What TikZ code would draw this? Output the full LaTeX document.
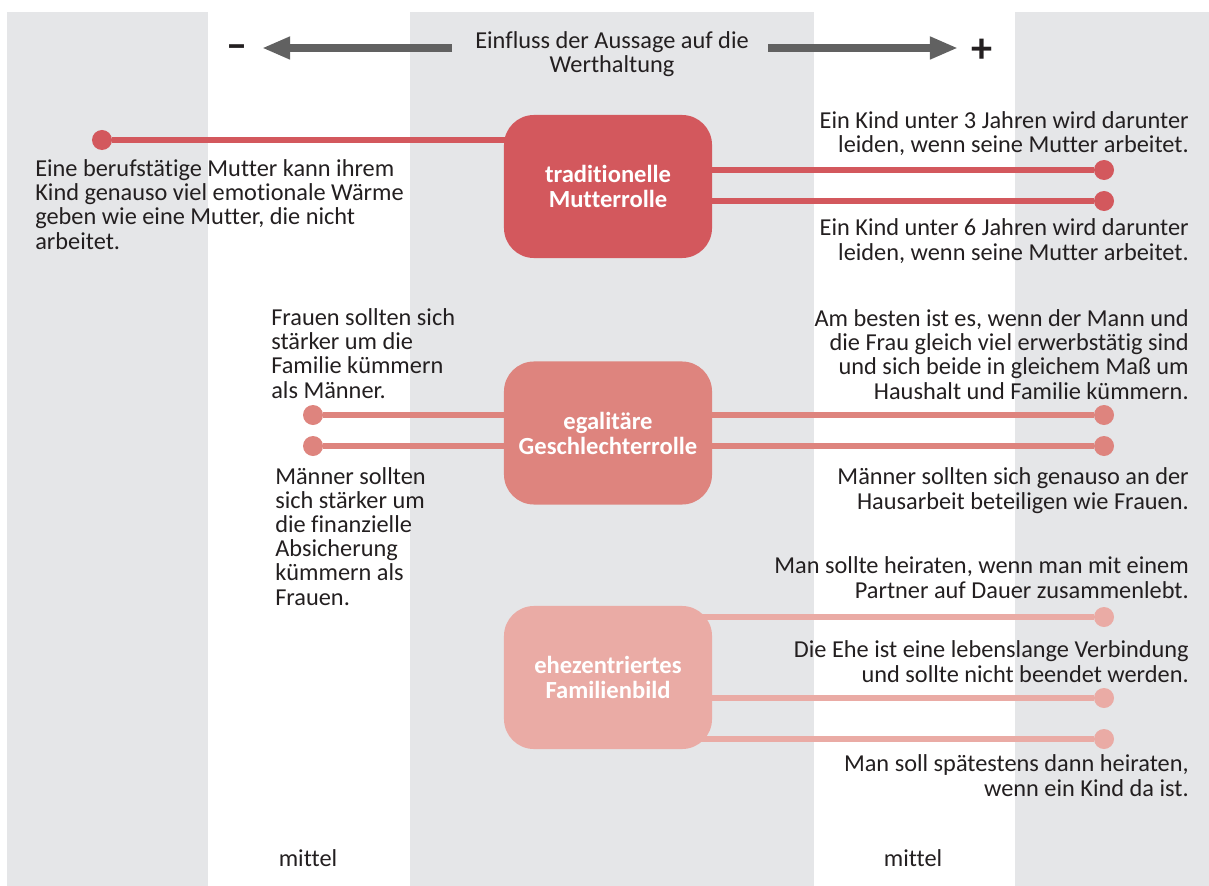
\documentclass[tikz,border=0pt]{standalone}
\usepackage{fontspec}
\setmainfont{Carlito}[Ligatures={NoCommon,NoContextual},Contextuals=NoAlternate]
\usetikzlibrary{arrows.meta,backgrounds}
\definecolor{rot}{HTML}{D3585D}
\definecolor{rosa}{HTML}{DE847E}
\definecolor{hell}{HTML}{EAABA5}
\definecolor{grau}{HTML}{E5E6E8}
\definecolor{pfeil}{HTML}{616161}
\definecolor{schrift}{HTML}{231F20}

\begin{document}
\begin{tikzpicture}[x=0.025cm,y=-0.025cm,
	txt/.style={font=\fontsize{17.3}{17.1}\selectfont,text=schrift,inner sep=0pt},
	links/.style={txt,align=left,anchor=base west},
	rechts/.style={txt,align=right,anchor=base east},
	rolle/.style={shape=rectangle,rounded corners=0.75cm,minimum width=5.2cm,minimum height=3.575cm,
		inner sep=0pt,align=center,text=white,font=\fontsize{17.5}{17.8}\selectfont\bfseries},
	punkt/.style={shape=circle,minimum size=0.5cm,inner sep=0pt},
	linie/.style={line width=3.6pt},
	zeichen/.style={font=\fontsize{30}{30}\selectfont\bfseries,text=schrift,inner sep=0pt}]

	\useasboundingbox (0,0) rectangle (1209,886);
	\begin{scope}[on background layer]
		\fill[grau] (7,12) rectangle (208,886);
		\fill[grau] (410,12) rectangle (814,886);
		\fill[grau] (1015,12) rectangle (1209,886);
	\end{scope}

	% Kopfzeile (base = letzte Zeile)
	\node[txt,align=center,anchor=base] (titel) at (612,73) {Einfluss der Aussage auf die\\Werthaltung};
	\node[zeichen] (minus) at (237,52) {–};
	\node[zeichen] (plus) at (982,51) {+};
	\coordinate (ls) at (452,48);
	\coordinate (pl) at (262,48);
	\coordinate (rs) at (768,48);
	\coordinate (pr) at (958,48);
	\draw[pfeil,line width=5pt,-{Triangle[length=20pt,width=15pt]}] (ls) -- (pl);
	\draw[pfeil,line width=5pt,-{Triangle[length=20pt,width=15pt]}] (rs) -- (pr);

	% Wertebereiche
	\node[rolle,fill=rot] (tm) at (608,186.5) {traditionelle\\Mutterrolle};
	\node[rolle,fill=rosa] (eg) at (608,433) {egalitäre\\Geschlechterrolle};
	\node[rolle,fill=hell] (ez) at (608,677.5) {ehezentriertes\\Familienbild};

	% Aussagen
	\node[punkt,fill=rot] (a) at (102,140) {};
	\node[punkt,fill=rot] (b) at (1104,170) {};
	\node[punkt,fill=rot] (c) at (1104,201) {};
	\node[punkt,fill=rosa] (d) at (313,415) {};
	\node[punkt,fill=rosa] (e) at (313,446) {};
	\node[punkt,fill=rosa] (f) at (1104,415) {};
	\node[punkt,fill=rosa] (g) at (1104,446) {};
	\node[punkt,fill=hell] (h) at (1104,617) {};
	\node[punkt,fill=hell] (i) at (1104,698) {};
	\node[punkt,fill=hell] (j) at (1104,739) {};

	\begin{scope}[on background layer]
		\path[linie,draw=rot] (a) edge (tm.center |- a);
		\path[linie,draw=rot] (b) edge (tm.center |- b);
		\path[linie,draw=rot] (c) edge (tm.center |- c);
		\path[linie,draw=rosa] (d) edge (f);
		\path[linie,draw=rosa] (e) edge (g);
		\path[linie,draw=hell] (h) edge (ez.center |- h);
		\path[linie,draw=hell] (i) edge (ez.center |- i);
		\path[linie,draw=hell] (j) edge (ez.center |- j);
	\end{scope}

	\node[links] (ta) at (35,249) {Eine berufstätige Mutter kann ihrem\\Kind genauso viel emotionale Wärme\\geben wie eine Mutter, die nicht\\arbeitet.};
	\node[rechts] (tb) at (1189,153) {Ein Kind unter 3 Jahren wird darunter\\leiden, wenn seine Mutter arbeitet.};
	\node[rechts] (tc) at (1189,260) {Ein Kind unter 6 Jahren wird darunter\\leiden, wenn seine Mutter arbeitet.};
	\node[links] (td) at (271,398) {Frauen sollten sich\\stärker um die\\Familie kümmern\\als Männer.};
	\node[links] (te) at (275,605) {Männer sollten\\sich stärker um\\die finanzielle\\Absicherung\\kümmern als\\Frauen.};
	\node[rechts] (tf) at (1189,399) {Am besten ist es, wenn der Mann und\\die Frau gleich viel erwerbstätig sind\\und sich beide in gleichem Maß um\\Haushalt und Familie kümmern.};
	\node[rechts] (tg) at (1189,509) {Männer sollten sich genauso an der\\Hausarbeit beteiligen wie Frauen.};
	\node[rechts] (th) at (1189,598) {Man sollte heiraten, wenn man mit einem\\Partner auf Dauer zusammenlebt.};
	\node[rechts] (ti) at (1189,682) {Die Ehe ist eine lebenslange Verbindung\\und sollte nicht beendet werden.};
	\node[rechts] (tj) at (1189,796) {Man soll spätestens dann heiraten,\\wenn ein Kind da ist.};

	% Skala
	\node[txt,anchor=base] (m1) at (308,866) {mittel};
	\node[txt,anchor=base] (m2) at (913,866) {mittel};

\end{tikzpicture}
\end{document}
